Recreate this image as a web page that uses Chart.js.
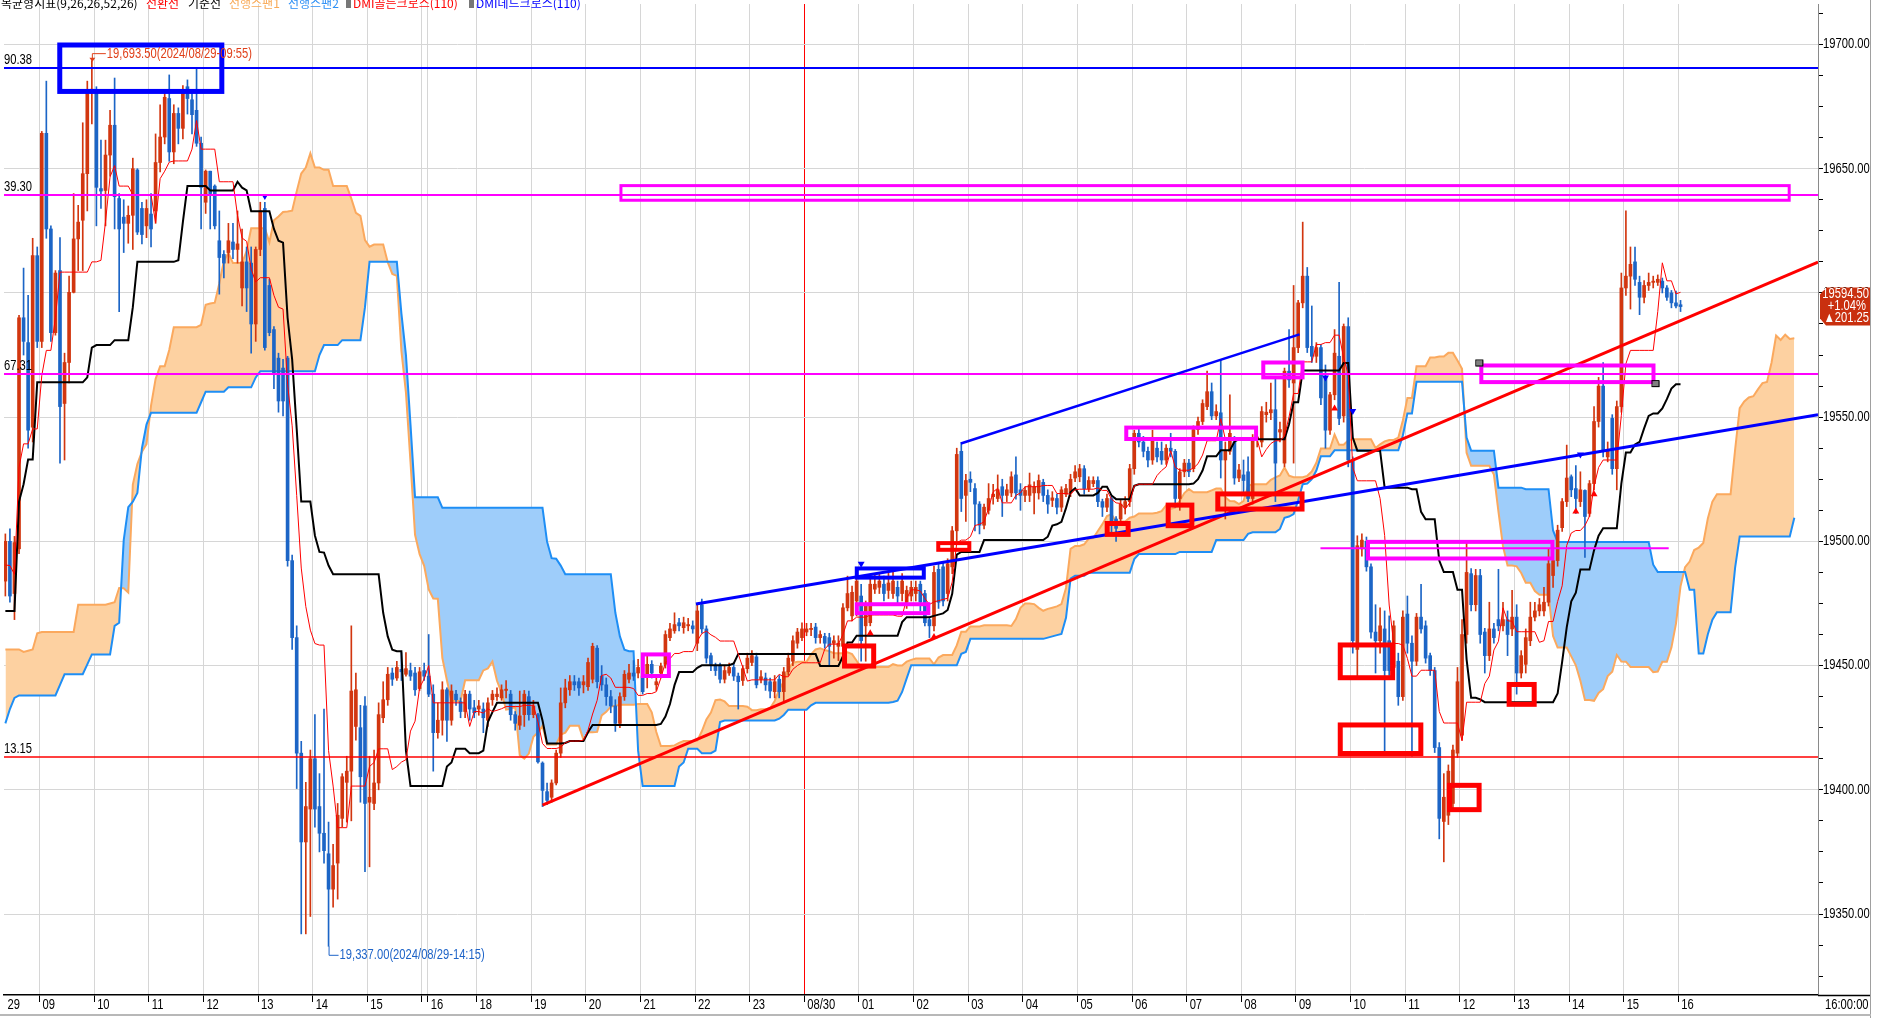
<!DOCTYPE html>
<html>
<head>
<meta charset="utf-8">
<script src="https://cdn.jsdelivr.net/npm/chart.js@4.4.1/dist/chart.umd.min.js"></script>
<style>
  html, body { margin: 0; padding: 0; background: #fff; overflow: hidden; }
</style>
</head>
<body>
<canvas id="chart" width="1877" height="1018"></canvas>
<script>
// 5 minute candles, [open, high, low, close]
const candles = [
  [19484,19503,19478,19500],[19500,19505,19475.5,19478],[19479,19502,19468.5,19499.5],[19497,19591,19495,19590],
  [19590,19610,19575,19580.5],[19580,19599,19537.5,19544.75],[19546,19622,19540,19615],[19615,19618.5,19578,19580.5],
  [19580.5,19665,19578,19664.25],[19664.25,19685.25,19622,19625.75],[19625.75,19627,19580.5,19584],[19584,19609,19583,19608],
  [19609,19622.25,19531.5,19554.25],[19555.5,19575.75,19532.75,19572],[19572,19606.75,19563.75,19600.25],[19600.25,19640,19600,19621.75],
  [19621.75,19635.25,19609,19628.5],[19629.25,19668.5,19609,19648],[19648,19685.25,19633,19680.5],[19681,19693.5,19668,19682],
  [19681.75,19683,19627,19642.5],[19642,19661.5,19634,19641],[19641.25,19661.5,19627,19655.5],[19655.5,19673.5,19647,19667.5],
  [19667.5,19686.5,19625.75,19638.75],[19638,19640,19592.5,19625.75],[19630.5,19637.5,19616.25,19628],[19628,19635,19620,19631.25],
  [19631.25,19654.25,19617.5,19650],[19649.5,19650,19623.5,19624.5],[19634,19636.5,19619.75,19623.5],[19627,19637.5,19622.25,19634],
  [19631.75,19640,19618.5,19625.75],[19633,19664,19628,19652.5],[19652.5,19675.75,19648.75,19662.75],[19662.75,19680.5,19660,19678.75],
  [19678.25,19687.75,19653,19656.75],[19656.75,19675.75,19652,19672.25],[19672.25,19674.5,19660,19666.25],[19666.25,19683.5,19662,19681.75],
  [19683,19685.75,19672,19678.25],[19677.75,19680.5,19664,19671.75],[19673.5,19690,19659,19660.25],[19660.25,19662.75,19625.75,19642.5],
  [19636.5,19649.5,19632,19649],[19649,19649,19625.75,19640],[19643,19643.5,19625.75,19627],[19621,19633,19599.5,19614.25],
  [19615.5,19617,19606,19612],[19616.25,19628,19612,19621],[19620.5,19628,19613.75,19617.5],[19617.5,19633,19612,19619.75],
  [19602,19625.75,19594.75,19612.5],[19612.5,19618.5,19592.5,19602],[19612,19618.5,19575.75,19587.5],[19587.5,19618.5,19580.5,19617.5],
  [19617.5,19636.5,19615,19633],[19634,19636.5,19577,19578],[19603,19605.5,19582.75,19584],[19585.25,19586.5,19561.5,19567.25],
  [19573.75,19575.75,19552,19556.5],[19569.75,19573.25,19550.5,19556.5],[19573.75,19574.5,19490,19492.25],[19492.25,19494.5,19456.5,19461.25],
  [19461.25,19466,19400.5,19414.75],[19414.75,19419.5,19342,19379],[19379,19403,19342,19393.25],[19392.25,19416,19349,19412.5],
  [19412.5,19430.25,19385,19392.25],[19393.25,19406.5,19375,19382.5],[19382.5,19432.5,19370.5,19375.5],[19374.25,19387,19337,19360],
  [19360,19378,19352.75,19369.5],[19370.5,19394.5,19356,19389.75],[19388.5,19406.5,19385,19405.25],[19403,19413.5,19387,19407.5],
  [19407.5,19466,19387.5,19439.75],[19425.5,19447,19420,19440.25],[19425,19434,19395,19405.25],[19433.75,19437.5,19367,19394.5],
  [19395,19413.5,19369,19397],[19394.5,19416,19392,19402.75],[19402.75,19435,19400,19430.25],[19429,19443.5,19427,19436.25],
  [19436.25,19449.25,19434,19446.5],[19447,19449,19442,19444.5],[19445,19451.75,19444,19449.25],[19448.5,19455.25,19444,19447.5],
  [19446.5,19455.25,19445.75,19448.75],[19448,19451,19444,19445.75],[19447,19449.25,19438,19440.25],[19440.75,19449.25,19440,19447.5],
  [19448,19451,19444,19445.75],[19445.75,19462.5,19437.5,19438.5],[19438.5,19442.25,19407.5,19423],[19423,19435,19420.75,19428],
  [19428,19443.5,19422,19440.25],[19440.25,19441,19419.5,19428],[19428,19442.25,19426,19439.75],[19438.5,19440,19434,19436.25],
  [19435.5,19437,19429,19431.5],[19431.5,19440,19429,19438.5],[19438.5,19439.75,19428,19432.5],[19433,19436,19429,19431],
  [19432.5,19436,19430,19433.75],[19432.5,19435,19423,19429],[19428,19437,19425.5,19435],[19436.25,19440,19434,19438.5],
  [19437.5,19441,19436,19438.5],[19437,19442.25,19436,19440.25],[19440,19444,19437,19440.5],[19438.5,19440,19428,19430.25],
  [19430.25,19431.5,19424,19426.75],[19426,19439.75,19424.25,19429.75],[19430.25,19440,19425.5,19438.5],[19437.5,19439.75,19428,19430.25],
  [19430.25,19436,19429,19433.75],[19430.25,19430.75,19410.75,19411.25],[19410.75,19411.25,19393.25,19399.75],[19399.25,19402.75,19394,19395.75],
  [19397,19404,19395,19402.75],[19402.75,19416,19402,19414.75],[19414.75,19441,19413,19435],[19435,19444.5,19433,19441],
  [19440.25,19446,19438,19443.5],[19443.5,19446,19440,19442.25],[19443.5,19445,19438,19441],[19442.25,19446,19439,19443.5],
  [19441.5,19453,19440,19451.25],[19444.5,19459,19443,19457.75],[19457,19458,19441,19443.5],[19445.75,19450,19440,19442.25],
  [19442.25,19445,19434,19437.5],[19437.5,19440,19431,19433.75],[19433.75,19436.25,19423.5,19426.75],[19426.75,19439,19425,19437.5],
  [19437.5,19448,19436,19446.5],[19444.5,19450.5,19443,19447],[19447,19452,19444,19445.75],[19447,19452.5,19445,19449.25],
  [19445.75,19451.75,19438.5,19439.5],[19445.75,19454,19441,19450.5],[19450.5,19452,19445,19447],[19442.25,19446,19440,19443.5],
  [19447,19451,19445,19449.75],[19450.5,19464,19449,19462.5],[19461.25,19467,19460,19464.75],[19464,19471.25,19463,19466.5],
  [19467.25,19469,19464,19466],[19465.25,19469.5,19463,19467.25],[19466,19469,19464,19466.5],[19466,19468,19463,19464.75],
  [19459,19474.75,19456,19472],[19474.5,19476.75,19463,19464.75],[19464.75,19466,19451,19453],[19454,19455,19448,19450.5],
  [19449.75,19451,19446,19448],[19449.75,19451,19443,19444.5],[19444.5,19450,19443,19448],[19447,19451,19446,19449.25],
  [19449.25,19451,19444,19445.75],[19445.75,19447,19432.5,19443.5],[19444,19450,19442,19448.75],[19448.75,19455,19447,19453],
  [19451.25,19456,19450,19454],[19453.5,19455,19441,19442.25],[19444.5,19448,19443,19445.5],[19445,19447,19440,19442.25],
  [19443.5,19445,19437,19439.75],[19439.5,19446,19437,19443.5],[19444.5,19446,19437,19439.5],[19439.5,19449.25,19435,19447.5],
  [19447.5,19455,19446,19453],[19451.75,19462,19450,19460],[19459,19465,19457,19463.5],[19461.25,19467.25,19460,19464.75],
  [19463.5,19467,19462,19464.75],[19464.5,19467,19462,19465],[19465.5,19467,19459,19461.25],[19461.25,19464,19459,19462.5],
  [19461.75,19463,19457,19459],[19461.25,19463,19450,19457.75],[19459,19462,19453,19460],[19457.75,19462,19452,19459],
  [19457.75,19475,19456,19473.25],[19473.25,19486,19472,19479],[19470,19482,19468,19479.5],[19476,19489,19470,19484],
  [19478,19482.75,19451.75,19460],[19466,19476,19451.75,19474.5],[19467.25,19486,19466,19482.75],[19480.75,19487,19479,19482.75],
  [19481.5,19487,19479,19484],[19482.75,19486,19476,19479],[19480.25,19488,19477,19483.25],[19479,19488,19477,19484],
  [19481.5,19484,19475,19478],[19479,19487,19476,19484],[19475.5,19482,19473,19480.25],[19478,19484,19476,19481.5],
  [19479,19484,19476,19481.5],[19482.75,19484,19472,19475.5],[19479,19480.25,19466,19467.25],[19468.5,19469.5,19461.25,19466],
  [19466,19490,19464,19487.5],[19488.75,19491,19473,19475.5],[19489.75,19492,19474,19476],[19479,19493,19476,19491],
  [19489.75,19506,19487,19504.25],[19504.25,19537.5,19500,19535],[19536.25,19539.75,19512,19517.25],[19518.5,19527,19508,19524.5],
  [19525,19528,19520,19523.75],[19521.25,19523.25,19504.25,19515],[19515,19516,19503,19506.5],[19506.5,19515,19505,19513.75],
  [19512.5,19523.25,19511,19517.25],[19518,19523,19515,19519],[19517.25,19526.75,19516,19520.75],[19522,19525,19510,19518.5],
  [19518.5,19523,19516,19520.75],[19519.5,19528,19518,19526],[19526.75,19534,19517,19519.5],[19520.75,19523.25,19512.5,19518.5],
  [19518.5,19522,19516,19520.5],[19518.5,19527.5,19516,19522.75],[19519.5,19524,19511,19522],[19519.5,19526.75,19517,19524.5],
  [19523.75,19525,19516,19518.5],[19518.5,19520.75,19511.25,19515],[19516.5,19520,19514,19517.5],[19517.25,19519,19511,19513.75],
  [19513.75,19522,19512,19520.75],[19519,19523,19518,19521.25],[19519.5,19527,19518,19525],[19525.5,19530.5,19524,19528],
  [19526,19531,19524,19529.25],[19529.25,19530.5,19519,19521.25],[19521.25,19526,19520,19524.5],[19523.25,19526,19522,19524.5],
  [19524.5,19526,19514,19516],[19516,19517,19510,19513.75],[19513.75,19519,19512,19517.25],[19517.25,19518.5,19503,19506.5],
  [19509,19510,19500,19505.25],[19509,19516.5,19507,19515],[19513.75,19518,19511,19516],[19516,19531,19514,19529.25],
  [19529.25,19544.75,19527,19543.5],[19543.5,19546,19538,19540],[19540,19542.25,19534,19536.25],[19536.25,19538,19530,19532.75],
  [19532.75,19544.75,19531,19541],[19537.5,19540,19532,19534],[19536.25,19540,19531,19532.75],[19532.75,19539,19531,19537.5],
  [19537.5,19543.5,19534,19536.25],[19536.25,19537,19513.75,19517.25],[19517.25,19529.25,19512.5,19528],[19528,19533,19526,19531.5],
  [19531.5,19533,19526,19528],[19529.25,19546.5,19528,19545],[19545,19550,19543,19548.25],[19548.25,19557,19547,19555.5],
  [19554.25,19568.5,19553,19560.25],[19560.25,19563.75,19549,19550.5],[19550.5,19555,19549,19552.25],[19551.75,19573.25,19525.5,19532.75],
  [19532.75,19540,19509,19536.25],[19536.25,19559,19535,19543.5],[19540,19542.25,19523,19525.5],[19525.5,19531,19524,19528.75],
  [19526.75,19532.75,19518.5,19524.5],[19528,19534,19516,19517.25],[19517.25,19543,19515,19541],[19541,19546,19538,19542],
  [19540,19554.25,19538,19552.25],[19551,19556,19548,19552],[19551.75,19563.75,19549,19553],[19553,19566,19516,19531.5],
  [19544,19548,19540,19545],[19531.5,19569.75,19530,19568.5],[19568.5,19585.25,19562,19565],[19563.75,19603,19531.5,19578],
  [19578,19597,19576,19596],[19596,19628.5,19594,19606.75],[19606.75,19610.25,19576,19578],[19578.5,19594.75,19572,19574.5],
  [19574.5,19580,19572,19578],[19578,19579.25,19555,19557.75],[19566,19571,19537.5,19544.75],[19544.75,19560,19543,19559],
  [19559,19585.25,19557,19575.75],[19574.5,19604.25,19547,19549.5],[19550.5,19587.5,19548,19586.5],[19586.5,19590,19530,19532.75],
  [19532.75,19534,19455,19460],[19456.5,19502.25,19444.5,19498.25],[19497,19503,19494,19500.5],[19500,19501.75,19488,19489.75],
  [19489.75,19491,19461,19463.5],[19463.5,19474.5,19447,19460],[19460,19473.25,19455,19466],[19464.75,19472,19414.75,19448],
  [19460,19470,19446,19448],[19449.25,19468,19447,19466],[19451.75,19455,19434,19437.5],[19437.5,19472,19436,19469.5],
  [19470.75,19478,19455,19459],[19459,19462,19413.5,19451.75],[19451.75,19471,19450,19469.5],[19469.5,19482.75,19463,19464.75],
  [19466,19468,19451,19453],[19454,19455,19446,19448],[19448,19449.25,19415,19417],[19417,19419,19380.25,19388.5],
  [19387.25,19406.5,19371,19397],[19389.75,19410,19386,19407.5],[19394.5,19418,19392,19416],[19414.75,19449.25,19413,19443.5],
  [19422,19468.5,19420,19462.5],[19462.5,19499.5,19459,19487.5],[19487,19489,19472,19474.5],[19474.5,19488.75,19472,19486.25],
  [19486.25,19488.75,19459,19462.5],[19463.5,19465,19447,19454],[19454,19475.5,19452,19464.75],[19464.75,19467,19459,19461.25],
  [19468.5,19488.75,19464,19466],[19466,19475.5,19464,19468.5],[19468.5,19472,19454,19462.5],[19464.75,19480.25,19462,19469.5],
  [19469.5,19474.5,19438.5,19447],[19447,19456,19445,19454],[19450.5,19464.75,19447,19461.25],[19460,19475.5,19458,19469.5],
  [19469.5,19475.5,19468,19472],[19472,19477,19470,19474.5],[19472,19481.5,19470,19475.5],[19475.5,19497,19474,19491],
  [19486.25,19494.5,19481.5,19492.25],[19492.25,19506.5,19490,19504.5],[19505.5,19517.25,19504,19516],[19516,19538.75,19514,19525.5],
  [19526,19526.75,19518,19520.75],[19521.25,19530.5,19511.25,19517.25],[19516,19528,19514,19520.75],[19520.5,19520.75,19493.5,19510],
  [19511.25,19524.5,19510,19523.25],[19523.25,19554.25,19520.75,19548.25],[19548.25,19566,19546,19562.5],[19562.5,19572,19534,19536.25],
  [19534,19540,19532,19536.25],[19549.5,19551,19527,19529.25],[19529.25,19556.5,19520.75,19554.25],[19554.25,19608,19552,19602],
  [19602,19633,19599,19606.75],[19606.75,19618.5,19593.5,19611.5],[19612.5,19618.5,19603,19605.5],[19604.25,19606.75,19591.25,19598.25],
  [19598.25,19605,19596,19603],[19603,19608,19601,19604.25],[19604.25,19606.75,19602,19604.75],[19604.25,19607.25,19603,19605.5],
  [19604.75,19606,19600,19602],[19602,19603,19597,19598.25],[19600,19601,19594,19596],[19596,19600.75,19594,19594.75],
  [19595.25,19597,19592.5,19594.5]
];

// Ichimoku values before enough history exists
const kijunHead = [19472,19472,19472,19516,19523,19533,19533,19564,19564,19564,19564,19564,19564,19564,19564,19564,19564,19564,19566,19578,19579,19579,19579,19579,19581,19581];
const span1Head = [19456.5,19456.5,19456.5,19456.5,19455.5,19456,19456.5,19463,19463.5,19463.5,19463.5,19463.5,19463.5,19463.5,19463.5,19463.5,19474.5,19474.5,19474.5,19474.5,19474.5,19474.5,19474.5,19475,19475.5];
const span2Head = [19426.75,19432.5,19437,19438,19438,19438,19438,19438,19438,19438,19438,19438,19442.25,
  19446.5,19446.5,19446.5,19446.5,19446.5,19450.5,19454.5,19454.5,19454.5,19454.5,19454.5,19466,19467.25,19500.5,
  19513.75,19516,19519.5,19537.5,19547,19551.75,19551.75,19551.75,19551.75,19551.75,19551.75,19551.75,19551.75,19551.75,
  19551.75,19551.75,19556,19560.25,19560.25,19560.25,19560.25,19560.25,19562,19562,19562,19562,19562,19562,19566,
  19568.5,19568.5,19568.5,19568.5,19568.5,19568.5,19568.5,19568.5,19568.5,19568.5,19568.5,19568.5,19568.5,19575,
  19579,19579,19579,19579,19581,19581];

// hour ticks (bar index) and their labels
const tickVals = [-0.2,7.5,19.5,31.5,43.5,55.5,67.5,79.5,91.5,92.8,103.5,115.5,127.5,139.5,151.5,163.5,175.5,187.5,199.5,211.5,223.5,235.5,247.5,259.5,271.5,283.5,295.5,307.5,319.5,331.5,343.5,355.5,367.5];
const tickTexts = ['29','09','10','11','12','13','14','15','','16','18','19','20','21','22','23','08/30','01','02','03','04','05','06','07','08','09','10','11','12','13','14','15','16'];
const dayBreak = 175.5;

// horizontal levels
const levelPrices = [19690.38, 19639.30, 19567.31, 19413.15];
// trend lines [i1, p1, i2, p2]
const segments = [[118, 19393.8, 398.2, 19612.4], [151.7, 19474.8, 398.2, 19551], [209.9, 19539.4, 284.3, 19583.3], [288.9, 19497.2, 365.4, 19497.2]];
// boxes [i1, p1, i2, p2]
const boxes = [
  [11.4, 19700.8, 48.1, 19680.1], [134.9, 19643.8, 392.2, 19636.7], [139.6, 19455.3, 146.2, 19445], [183.8, 19458.9, 191.3, 19448.8],
  [186.6, 19489.9, 202.2, 19484.6], [186.6, 19475.5, 203.2, 19470.3], [204.5, 19500.1, 212.2, 19495.8], [241.5, 19508.2, 247.2, 19501.8],
  [245.8, 19546.6, 275.2, 19540.4], [254.9, 19515.6, 261.2, 19505.3], [265.8, 19520.1, 285.4, 19512], [275.9, 19572.8, 285.4, 19565.2],
  [292.7, 19459.3, 305.3, 19444.1], [292.7, 19427.1, 311.5, 19413.6], [298.9, 19500.6, 340.3, 19492.3], [316.7, 19402.8, 324.3, 19391],
  [329.8, 19443.4, 336.4, 19433.4], [323.8, 19571.6, 362.5, 19563.3]
];
// DMI cross signals
const goldenIdx = [190, 204, 292, 345, 349];
const goldenPrice = [19463, 19461.5, 19553.5, 19512, 19519];
const deadIdx = [57, 188, 290, 296, 346];
const deadPrice = [19639, 19491, 19566, 19552.5, 19535];

const highIdx = 19, highText = '19,693.50(2024/08/29-09:55)';
const lowIdx = 71, lowText = '19,337.00(2024/08/29-14:15)';
const lastChangePct = '+1.04%', lastChange = '\u25B2201.25';

// ---- styles ----
const SANS = "'Liberation Sans',Arial,sans-serif";
const KR = "'Noto Sans CJK KR','Noto Sans',sans-serif";
const UP = '#d2360f', DOWN = '#1c65c6';
const levelColors = ['#0000ff', '#ff00ff', '#ff00ff', '#ff0000'];
const levelWidths = [2, 2, 2, 1.5];
const segColors = ['#ff0000', '#0000ff', '#0000ff', '#ff00ff'];
const segWidths = [3, 3, 2.5, 2];
const boxColors = ['#0000ff','#ff00ff','#ff00ff','#ff0000','#0000ff','#ff00ff','#ff0000','#ff0000','#ff00ff','#ff0000','#ff0000','#ff00ff','#ff0000','#ff0000','#ff00ff','#ff0000','#ff0000','#ff00ff'];
const boxWidths = [5,3,4,5,4,4,4,5,4,5,5,4,5,5,4,5,5,4];

// narrow, tall text like the terminal's bitmap font
function narrowText(ctx, str, x, y, align, color) {
  ctx.save();
  ctx.translate(x, y);
  ctx.scale(0.8, 1);
  ctx.font = '14px ' + SANS;
  ctx.fillStyle = color;
  ctx.textAlign = align;
  ctx.textBaseline = 'middle';
  ctx.fillText(str, 0, 0);
  ctx.restore();
}

// ---- ichimoku ----
const N = candles.length;
const SHIFT = 25;
const highs = candles.map(c => c[1]);
const lows = candles.map(c => c[2]);
function midRange(end, len) {
  let hi = -Infinity, lo = Infinity;
  for (let k = Math.max(0, end - len + 1); k <= end; k++) {
    hi = Math.max(hi, highs[k]);
    lo = Math.min(lo, lows[k]);
  }
  return (hi + lo) / 2;
}
const tenkan = candles.map((c, i) => midRange(i, 9));
const kijun = candles.map((c, i) => i < kijunHead.length ? kijunHead[i] : midRange(i, 26));
const span1 = [], span2 = [];
for (let p = 0; p < N + SHIFT; p++) {
  span1.push({x: p, y: p < SHIFT ? span1Head[p] : (tenkan[p - SHIFT] + kijun[p - SHIFT]) / 2});
  span2.push({x: p, y: p < span2Head.length ? span2Head[p] : midRange(p - SHIFT, 52)});
}
const candleColor = ctx => {
  const c = candles[ctx.dataIndex];
  return c && c[3] >= c[0] ? UP : DOWN;
};

const overlay = {
  id: 'overlay',
  afterDatasetsDraw(chart) {
    const {ctx, chartArea: a, scales: {x, y}} = chart;
    ctx.save();
    ctx.beginPath();
    ctx.rect(a.left, a.top, a.right - a.left, a.bottom - a.top);
    ctx.clip();

    levelPrices.forEach((p, k) => {
      const py = Math.round(y.getPixelForValue(p));
      ctx.strokeStyle = levelColors[k];
      ctx.lineWidth = levelWidths[k];
      ctx.beginPath(); ctx.moveTo(a.left, py); ctx.lineTo(a.right, py); ctx.stroke();
      narrowText(ctx, p.toFixed(2), 32, py - 8, 'right', '#000');
    });

    segments.forEach((s, k) => {
      ctx.strokeStyle = segColors[k];
      ctx.lineWidth = segWidths[k];
      ctx.beginPath();
      ctx.moveTo(x.getPixelForValue(s[0]), y.getPixelForValue(s[1]));
      ctx.lineTo(x.getPixelForValue(s[2]), y.getPixelForValue(s[3]));
      ctx.stroke();
    });

    boxes.forEach((b, k) => {
      const lw = boxWidths[k];
      const x1 = x.getPixelForValue(b[0]), x2 = x.getPixelForValue(b[2]);
      const y1 = y.getPixelForValue(b[1]), y2 = y.getPixelForValue(b[3]);
      ctx.strokeStyle = boxColors[k];
      ctx.lineWidth = lw;
      ctx.strokeRect(x1 + lw / 2, y1 + lw / 2, x2 - x1 - lw, y2 - y1 - lw);
    });
    // handles on the last magenta box
    const hb = boxes[boxes.length - 1];
    [[hb[0], hb[1]], [hb[2], hb[3]]].forEach(pt => {
      const px = x.getPixelForValue(pt[0]), py = y.getPixelForValue(pt[1]);
      ctx.fillStyle = '#808080'; ctx.strokeStyle = '#000'; ctx.lineWidth = 1;
      ctx.fillRect(px - 3, py - 3, 7, 6); ctx.strokeRect(px - 3.5, py - 3.5, 7, 6);
    });

    // high / low labels
    const hx = x.getPixelForValue(highIdx), hy = y.getPixelForValue(highs[highIdx]);
    ctx.strokeStyle = '#e0401a'; ctx.fillStyle = '#e0401a'; ctx.lineWidth = 1;
    ctx.beginPath(); ctx.moveTo(hx + 0.5, hy); ctx.lineTo(hx + 0.5, hy - 7); ctx.lineTo(hx + 14, hy - 7); ctx.stroke();
    ctx.beginPath(); ctx.moveTo(hx - 2.5, hy - 3); ctx.lineTo(hx + 3.5, hy - 3); ctx.lineTo(hx + 0.5, hy + 1); ctx.fill();
    narrowText(ctx, highText, hx + 15, hy - 7, 'left', '#e0401a');
    const lx = x.getPixelForValue(lowIdx), ly = y.getPixelForValue(lows[lowIdx]);
    ctx.strokeStyle = '#1e64c8';
    ctx.beginPath(); ctx.moveTo(lx + 0.5, ly); ctx.lineTo(lx + 0.5, ly + 9); ctx.lineTo(lx + 10, ly + 9); ctx.stroke();
    narrowText(ctx, lowText, lx + 11, ly + 9, 'left', '#1e64c8');
    ctx.restore();
  },
  afterDraw(chart) {
    const {ctx, chartArea: a, scales: {x, y}} = chart;
    ctx.save();
    // axis labels
    y.ticks.forEach(t => {
      if (t.value % 50 === 0) narrowText(ctx, t.value.toFixed(2), a.right + 5, y.getPixelForValue(t.value), 'left', '#000');
    });
    tickVals.forEach((v, k) => {
      if (tickTexts[k]) narrowText(ctx, tickTexts[k], Math.max(1, x.getPixelForValue(v) + 3), a.bottom + 10, 'left', '#000');
    });
    // frame on the right and bottom
    ctx.strokeStyle = '#000'; ctx.lineWidth = 1.5;
    ctx.beginPath(); ctx.moveTo(a.right, a.bottom + 0.5); ctx.lineTo(1871, a.bottom + 0.5); ctx.stroke();
    ctx.strokeStyle = '#a0a0a0'; ctx.lineWidth = 1;
    ctx.beginPath(); ctx.moveTo(1870.5, 0); ctx.lineTo(1870.5, 1018); ctx.stroke();
    ctx.strokeStyle = '#b8b8b8'; ctx.lineWidth = 2;
    ctx.beginPath(); ctx.moveTo(0, 1015); ctx.lineTo(1871, 1015); ctx.stroke();
    narrowText(ctx, '16:00:00', 1825, a.bottom + 10, 'left', '#000');

    // last price tag
    const last = candles[N - 1][3];
    const ty = y.getPixelForValue(last);
    ctx.fillStyle = '#c9300f';
    ctx.beginPath();
    ctx.moveTo(1826, ty - 19); ctx.lineTo(1870, ty - 19); ctx.lineTo(1870, ty + 19);
    ctx.lineTo(1826, ty + 19); ctx.lineTo(1820, ty + 12); ctx.lineTo(1820, ty - 12); ctx.closePath();
    ctx.fill();
    narrowText(ctx, last.toFixed(2), 1869, ty - 12, 'right', '#fff');
    narrowText(ctx, lastChangePct, 1866, ty, 'right', '#fff');
    narrowText(ctx, lastChange, 1869, ty + 12, 'right', '#fff');

    // legend line at the very top
    ctx.textAlign = 'left'; ctx.textBaseline = 'alphabetic';
    ctx.font = '12px ' + KR;
    const items = [
      ['일목균형지표(9,26,26,52,26)', '#000', -10], ['전환선', '#ff0000', 146], ['기준선', '#000', 188],
      ['선행스팬1', '#f8a955', 229], ['선행스팬2', '#2a8ef5', 288], ['DMI골든크로스(110)', '#ff0000', 353],
      ['DMI데드크로스(110)', '#0000ff', 476]
    ];
    items.forEach(it => { ctx.fillStyle = it[1]; ctx.fillText(it[0], it[2], 8); });
    ctx.fillStyle = '#777';
    ctx.fillRect(346, 0, 5, 8);
    ctx.fillRect(469, 0, 5, 8);
    ctx.restore();
  }
};

new Chart(document.getElementById('chart'), {
  type: 'bar',
  data: {
    datasets: [
      { type: 'bar', data: candles.map((c, i) => ({x: i, y: [c[2], c[1]]})), backgroundColor: candleColor,
        barThickness: 1, grouped: false, order: 2 },
      { type: 'bar', data: candles.map((c, i) => ({x: i, y: [c[0], c[3]]})), backgroundColor: candleColor,
        barThickness: 3, grouped: false, minBarLength: 1, order: 1 },
      { type: 'line', data: tenkan.map((v, i) => ({x: i, y: v})), borderColor: '#ff0000', borderWidth: 1,
        pointRadius: 0, order: 0 },
      { type: 'line', data: kijun.map((v, i) => ({x: i, y: v})), borderColor: '#000', borderWidth: 2,
        pointRadius: 0, order: 0 },
      { type: 'line', data: span1, borderColor: '#fba95e', borderWidth: 2, pointRadius: 0, order: 5,
        fill: {target: 5, above: '#fdd1a1', below: '#9ecdfa'} },
      { type: 'line', data: span2, borderColor: '#1e8ef5', borderWidth: 2, pointRadius: 0, order: 4 },
      { type: 'line', data: goldenIdx.map((v, k) => ({x: v, y: goldenPrice[k]})), showLine: false,
        pointStyle: 'triangle', pointRadius: 4, backgroundColor: '#ff0000', borderWidth: 0, order: -1 },
      { type: 'line', data: deadIdx.map((v, k) => ({x: v, y: deadPrice[k]})), showLine: false,
        pointStyle: 'triangle', rotation: 180, pointRadius: 4, backgroundColor: '#0000ff', borderWidth: 0, order: -1 }
    ]
  },
  options: {
    responsive: false,
    animation: false,
    devicePixelRatio: 1,
    layout: { padding: 0 },
    plugins: { legend: { display: false }, tooltip: { enabled: false } },
    scales: {
      x: {
        type: 'linear', min: -0.3, max: 398.2, offset: false,
        afterBuildTicks: s => { s.ticks = tickVals.map(v => ({value: v})); },
        afterFit: s => { s.height = 23; s.paddingLeft = 0; s.paddingRight = 0; },
        ticks: { autoSkip: false, maxRotation: 0, minRotation: 0, font: { family: SANS, size: 11 }, callback: () => '' },
        grid: { offset: false, tickLength: 7, lineWidth: 1,
          color: c => c.tick && c.tick.value < 0 ? 'rgba(0,0,0,0)' : (c.tick && c.tick.value === dayBreak ? '#ff0000' : '#d6d6d6'),
          tickColor: c => c.tick && c.tick.value < 0 ? 'rgba(0,0,0,0)' : '#000' },
        border: { color: '#000', width: 1.5 }
      },
      y: {
        type: 'linear', position: 'right', min: 19317.4, max: 19716.3,
        afterBuildTicks: s => { const t = []; for (let v = 19325; v <= 19712.5; v += 12.5) t.push({value: v}); s.ticks = t; },
        afterFit: s => { s.width = 59; s.paddingTop = 0; s.paddingBottom = 0; },
        ticks: { autoSkip: false, font: { family: SANS, size: 11 }, callback: () => '' },
        grid: { tickLength: 5, tickColor: '#000',
          color: c => c.tick && c.tick.value % 50 === 0 ? '#d6d6d6' : 'rgba(0,0,0,0)' },
        border: { color: '#8a8a8a' }
      }
    }
  },
  plugins: [overlay]
});
</script>
</body>
</html>
